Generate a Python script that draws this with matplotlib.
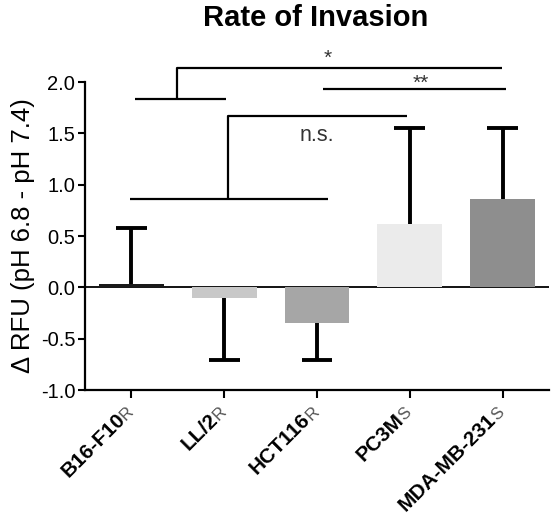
import numpy as np
import matplotlib
matplotlib.use('Agg')
import matplotlib.pyplot as plt
import matplotlib.transforms as mtransforms

plt.rcParams['font.family'] = ['Liberation Sans', 'DejaVu Sans']

# data
cells = ['B16-F10', 'LL/2', 'HCT116', 'PC3M', 'MDA-MB-231']
suffix = ['R', 'R', 'R', 'S', 'S']
means = [0.03, -0.10, -0.35, 0.62, 0.86]
errs = [0.55, 0.61, 0.36, 0.93, 0.69]
colors = ['#1a1a1a', '#c8c8c8', '#a6a6a6', '#ebebeb', '#8e8e8e']

# significance brackets (x in bar index units, y in data units)
ns_low = ([-0.02, 2.12], [0.857, 0.857])
ns_stem = ([1.04, 1.04, 2.97], [0.857, 1.665, 1.665])
star_low = ([0.04, 1.02], [1.83, 1.83])
star_stem = ([0.49, 0.49, 3.99], [1.83, 2.14, 2.14])
dstar_line = ([2.06, 4.04], [1.93, 1.93])
marks = [('n.s.', 2.0, 1.48), ('*', 2.12, 2.23), ('**', 3.12, 1.99)]

fig = plt.figure(figsize=(5.53, 5.15), dpi=100)
ax = fig.add_axes([85/553, 125/515, 464/553, 308/515])

x = np.arange(len(cells))
ax.bar(x, means, width=0.7, color=colors, zorder=2)

# one-sided error bars, cap only at the far end
ends = [m + e if m >= 0 else m - e for m, e in zip(means, errs)]
ax.vlines(x, means, ends, color='black', lw=2.8, zorder=3)
ax.hlines(ends, x - 0.165, x + 0.165, color='black', lw=2.8, zorder=3)
ax.axhline(0, color='black', lw=1.3, zorder=1)

for seg in [ns_low, ns_stem, star_low, star_stem, dstar_line]:
    ax.plot(seg[0], seg[1], color='black', lw=1.6, clip_on=False,
            solid_capstyle='butt')
for txt, tx, ty in marks:
    ax.text(tx, ty, txt, ha='center', va='center',
            fontsize=15.5 if txt == 'n.s.' else 15,
            color='#333333', clip_on=False)

ax.set_xlim(-0.5, 4.5)
ax.set_ylim(-1.0, 2.0)
ax.set_yticks(np.arange(-1.0, 2.01, 0.5))
ax.set_yticklabels(['%.1f' % v for v in np.arange(-1.0, 2.01, 0.5)], fontsize=14.5)
ax.set_xticks(x)
ax.set_xticklabels([])
ax.tick_params(axis='y', length=5, width=1.5, pad=2)
ax.tick_params(axis='x', length=6, width=1.5)
for s in ['top', 'right']:
    ax.spines[s].set_visible(False)
for s in ['left', 'bottom']:
    ax.spines[s].set_linewidth(1.6)

# rotated tick labels: bold name + thin suffix
off = mtransforms.ScaledTranslation(-4/72, -22/72, fig.dpi_scale_trans)
trans = ax.get_xaxis_transform() + off
for i in range(len(cells)):
    ax.text(i, 0, cells[i], transform=trans, rotation=45, rotation_mode='anchor',
            ha='right', va='baseline', fontsize=15, fontweight='bold', clip_on=False)
    ax.text(i, 0, suffix[i], transform=trans, rotation=45, rotation_mode='anchor',
            ha='left', va='baseline', fontsize=12, color='#555555', clip_on=False)

ax.set_ylabel('\u0394 RFU (pH 6.8 - pH 7.4)', fontsize=18.5, labelpad=4)
fig.text(316/553, 1 - 26/515, 'Rate of Invasion', ha='center', va='baseline',
         fontsize=21, fontweight='bold')

fig.savefig('out.png', dpi=100)
